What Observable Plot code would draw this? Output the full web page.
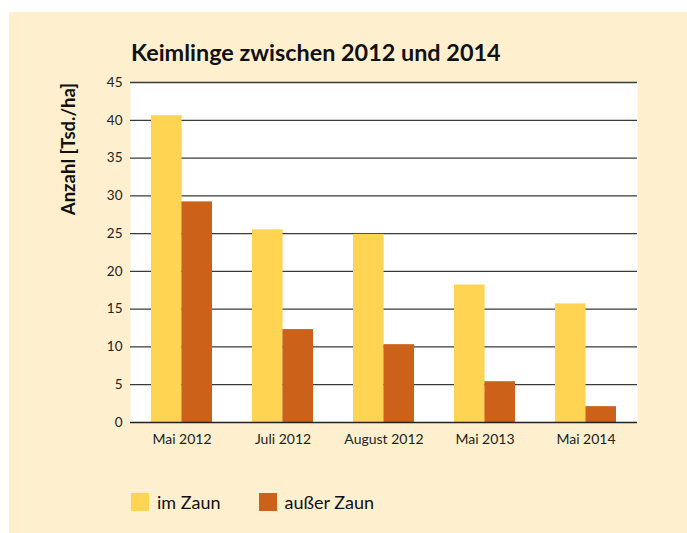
<!DOCTYPE html>
<html>
<head>
<meta charset="utf-8">
<script src="https://cdn.jsdelivr.net/npm/d3@7"></script>
<script src="https://cdn.jsdelivr.net/npm/@observablehq/plot@0.6"></script>
<style>
  html, body { margin: 0; padding: 0; background: #ffffff; width: 687px; height: 533px; overflow: hidden; }
  #panel { position: absolute; left: 9px; top: 12px; width: 678px; height: 521px; background: #fef0cf; }
  #title { position: absolute; left: 131px; top: 38px; font-family: Lato, sans-serif; font-weight: 700; font-size: 23.4px; color: #111; white-space: nowrap; }
  #ylabel { position: absolute; left: 68px; top: 149px; transform: translate(-50%, -50%) rotate(-90deg); font-family: Lato, sans-serif; font-weight: 700; font-size: 18.5px; color: #111; white-space: nowrap; }
  #chart { position: absolute; left: 0; top: 70px; }
  #legend { position: absolute; left: 131px; top: 493px; height: 18px; font-family: Lato, sans-serif; font-size: 18px; color: #111; display: flex; }
  .item { display: flex; align-items: center; height: 18px; }
  .item span { line-height: 18px; }
  .sw { width: 18px; height: 18px; margin-right: 8px; }
</style>
</head>
<body>
<div id="panel"></div>
<div id="title">Keimlinge zwischen 2012 und 2014</div>
<div id="ylabel">Anzahl [Tsd./ha]</div>
<div id="chart"></div>
<div id="legend"></div>
<script>
const categories = ["Mai 2012", "Juli 2012", "August 2012", "Mai 2013", "Mai 2014"];
const series = ["im Zaun", "außer Zaun"];
const imZaun = [40.6, 25.5, 24.9, 18.2, 15.7];
const ausserZaun = [29.2, 12.3, 10.3, 5.4, 2.1];
const colors = ["#fed452", "#cc6119"];
const yTicks = [0, 5, 10, 15, 20, 25, 30, 35, 40, 45];

const W = 687, ML = 130, MR = 50;
const paddingInner = 0.4, paddingOuter = 0.2;

const dataIn = categories.map((c, i) => ({cat: c, series: series[0], value: imZaun[i]}));
const dataOut = categories.map((c, i) => ({cat: c, series: series[1], value: ausserZaun[i]}));

// half of the band width, so each series takes one half of its category band
const bw = d3.scaleBand().domain(categories).range([ML, W - MR])
  .paddingInner(paddingInner).paddingOuter(paddingOuter).bandwidth();
const half = bw / 2;

const plot = Plot.plot({
  width: W,
  height: 382,
  marginLeft: ML,
  marginRight: MR,
  marginTop: 12,
  marginBottom: 30,
  style: { fontFamily: "Lato, sans-serif", fontSize: "14px", color: "#222", background: "transparent" },
  x: { domain: categories, paddingInner, paddingOuter, label: null },
  y: { domain: [0, 45], ticks: yTicks, label: null },
  color: { domain: series, range: colors },
  marks: [
    Plot.frame({ fill: "white", stroke: null }),
    Plot.ruleY(yTicks.filter(d => d > 0), { stroke: "#3a3a3a", strokeWidth: 1.3 }),
    Plot.barY(dataIn, { x: "cat", y: "value", fill: "series", insetRight: half }),
    Plot.barY(dataOut, { x: "cat", y: "value", fill: "series", insetLeft: half }),
    Plot.ruleY([0], { stroke: "#222", strokeWidth: 1.3 }),
    Plot.axisY({ ticks: yTicks, tickSize: 0, tickPadding: 8, fontSize: 13.5, label: null }),
    Plot.axisX({ tickSize: 0, tickPadding: 12, fontSize: 14, label: null })
  ]
});
document.getElementById("chart").appendChild(plot);

const legend = document.getElementById("legend");
series.forEach((s, i) => {
  const item = document.createElement("div");
  item.className = "item";
  item.style.marginRight = i === 0 ? "38px" : "0";
  const sw = document.createElement("div");
  sw.className = "sw";
  sw.style.background = colors[i];
  const t = document.createElement("span");
  t.textContent = s;
  item.appendChild(sw);
  item.appendChild(t);
  legend.appendChild(item);
});
</script>
</body>
</html>
